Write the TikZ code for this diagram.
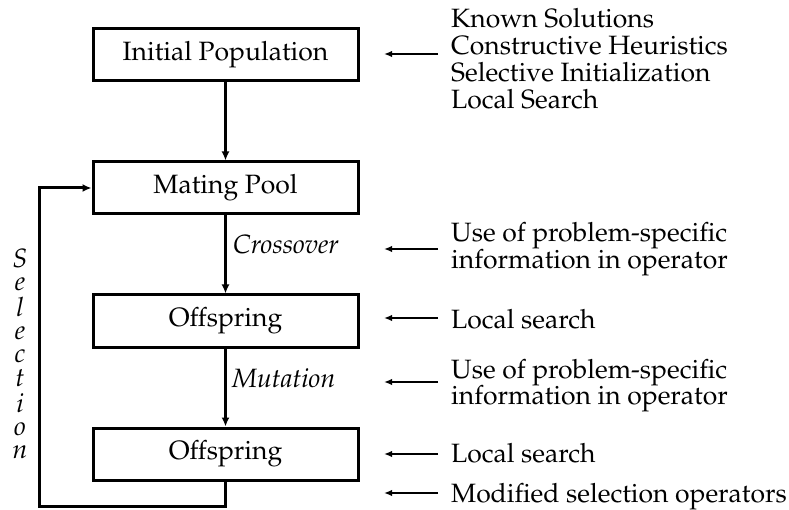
\documentclass[tikz,border=0pt]{standalone}
\usepackage[T1]{fontenc}
\usepackage{mathpazo}
\usetikzlibrary{arrows.meta}
\newcommand\gafont{\fontsize{26.5}{26.5}\selectfont}
\begin{document}
\begin{tikzpicture}[x=1pt,y=-1pt,
  every node/.style={font=\gafont},
  stage/.style={draw, line width=3pt, minimum width=265pt, minimum height=52pt, inner sep=0pt},
  flow/.style={line width=3pt, -{Latex[length=9pt,width=8pt]}},
  feed/.style={line width=2pt, -{Latex[length=8pt,width=6.5pt]}},
  note/.style={anchor=base west, inner sep=0pt},
  oplabel/.style={anchor=base west, inner sep=0pt, font=\gafont\itshape},
]
\path[use as bounding box] (0,0) rectangle (789,510);

% main stages
\node[stage] (init) at (225.5,55) {Initial Population};
\node[stage] (pool) at (225.5,188) {Mating Pool};
\node[stage] (off1) at (225.5,321) {Offspring};
\node[stage] (off2) at (225.5,454) {Offspring};

% flow between stages
\draw[flow] (init) -- (pool);
\draw[flow] (pool) -- (off1);
\draw[flow] (off1) -- (off2);
\coordinate (selcorner) at (39.5,506.5);
\draw[flow] (off2.south) |- (selcorner) |- (pool.west);

% operator labels
\node[oplabel] (xover) at (233,254) {Crossover};
\node[oplabel] (mut) at (232,387) {Mutation};
\node[anchor=base, inner sep=0pt, font=\fontsize{26.5}{22.9}\selectfont\itshape] (sel) at (20,268)
  {\begin{tabular}[t]{@{}c@{}}S\\e\\l\\e\\c\\t\\i\\o\\n\end{tabular}};

% problem-specific knowledge fed into each step
\node[note] (k1) at (451,28) {\begin{tabular}[t]{@{}l@{}}Known Solutions\\Constructive Heuristics\\Selective Initialization\\Local Search\end{tabular}};
\node[note, font=\fontsize{26.5}{25}\selectfont] (k2) at (451,242) {\begin{tabular}[t]{@{}l@{}}Use of problem-specific\\information in operator\end{tabular}};
\node[note] (k3) at (451,328) {Local search};
\node[note, font=\fontsize{26.5}{24.5}\selectfont] (k4) at (451,378) {\begin{tabular}[t]{@{}l@{}}Use of problem-specific\\information in operator\end{tabular}};
\node[note] (k5) at (451,462) {Local search};
\node[note] (k6) at (451,502) {Modified selection operators};

\foreach \n/\y/\w in {1/54/2pt, 2/249/2pt, 3/318/2pt, 4/382/2pt, 5/454/2pt, 6/493/2.6pt} {
  \coordinate (f\n t) at (438,\y);
  \coordinate (f\n h) at (384,\y);
  \draw[feed, line width=\w] (f\n t) -- (f\n h);
}
\end{tikzpicture}
\end{document}
